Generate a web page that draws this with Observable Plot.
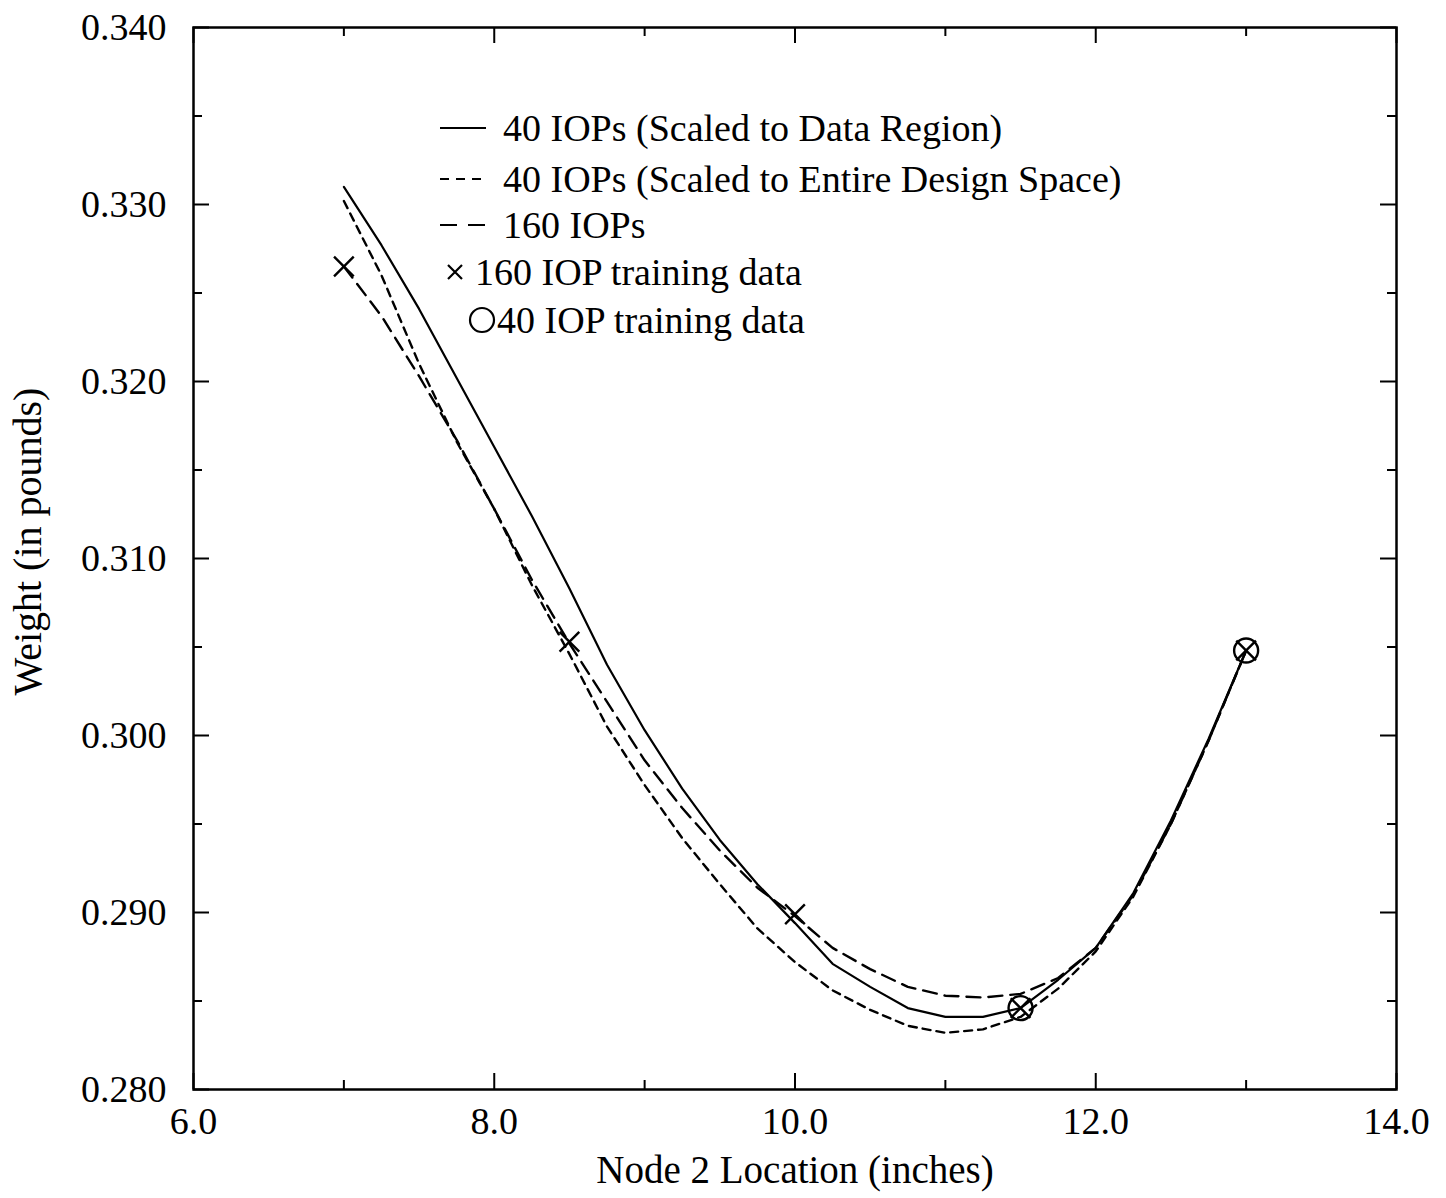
<!DOCTYPE html>
<html><head><meta charset="utf-8">
<script src="https://cdn.jsdelivr.net/npm/d3@7"></script>
<script src="https://cdn.jsdelivr.net/npm/@observablehq/plot@0.6"></script>
<style>
body{margin:0;background:#fff;}
#wrap{position:relative;width:1446px;height:1198px;background:#fff;}
#legend{position:absolute;left:0;top:0;pointer-events:none;}
</style></head><body><div id="wrap"></div>
<script>
// ---- data ----
const nodeX = [7.0,7.25,7.5,7.75,8.0,8.25,8.5,8.75,9.0,9.25,9.5,9.75,10.0,10.25,10.5,10.75,11.0,11.25,11.5,11.75,12.0,12.25,12.5,12.75,13.0];
const iop40Data = [0.3310,0.3277,0.3241,0.3202,0.3163,0.3124,0.3083,0.3040,0.3003,0.2970,0.2941,0.2916,0.2894,0.2871,0.2858,0.2846,0.2841,0.2841,0.2846,0.2862,0.2880,0.2911,0.2952,0.2998,0.3048];
const iop40Entire = [0.3302,0.3260,0.3210,0.3166,0.3128,0.3085,0.3046,0.3005,0.2972,0.2942,0.2916,0.2891,0.2872,0.2856,0.2845,0.2836,0.2832,0.2834,0.2841,0.2857,0.2878,0.2909,0.2950,0.2997,0.3048];
const iop160 = [0.3265,0.3237,0.3203,0.3167,0.3128,0.3088,0.3052,0.3019,0.2986,0.2959,0.2935,0.2914,0.2898,0.2880,0.2868,0.2858,0.2853,0.2852,0.2854,0.2863,0.2880,0.2910,0.2950,0.2997,0.3048];
const train160X = [7.0,8.5,10.0,11.5,13.0];
const train160Y = [0.3265,0.3053,0.2899,0.2846,0.3048];
const train40X = [11.5,13.0];
const train40Y = [0.2846,0.3048];
const xMajor = [6,8,10,12,14];
const xMinor = [7,9,11,13];
const yMajor = [0.28,0.29,0.30,0.31,0.32,0.33,0.34];
const yMinor = [0.285,0.295,0.305,0.315,0.325,0.335];
const legendLabels = ["40 IOPs (Scaled to Data Region)","40 IOPs (Scaled to Entire Design Space)","160 IOPs","160 IOP training data","40 IOP training data"];
const xTitle = "Node 2 Location (inches)";
const yTitle = "Weight (in pounds)";

// ---- layout ----
const W = 1446, H = 1198, mL = 193, mR = 50, mT = 27, mB = 109;
const fw = W - mL - mR, fh = H - mT - mB;
const FONT = "'Liberation Serif', 'Times New Roman', serif";
const shortDash = "8,6", longDash = "14,8";

const series = (ys) => nodeX.map((x, i) => ({x, y: ys[i]}));
const pts = (xs, ys) => xs.map((x, i) => ({x, y: ys[i]}));

const plot = Plot.plot({
  width: W, height: H,
  marginLeft: mL, marginRight: mR, marginTop: mT, marginBottom: mB,
  style: {fontFamily: FONT, fontSize: "38px", background: "#fff", color: "#000"},
  x: {domain: [6, 14]},
  y: {domain: [0.28, 0.34]},
  marks: [
    Plot.axisX(xMajor, {tickSize: 0, tickPadding: 18, tickFormat: d3.format(".1f"), fontSize: 38, label: null}),
    Plot.axisY(yMajor, {tickSize: 0, tickPadding: 27, tickFormat: d3.format(".3f"), fontSize: 38, label: null}),
    // inward ticks on all four sides
    Plot.tickX(xMajor, {x: d => d, insetTop: fh - 16, stroke: "#000", strokeWidth: 2}),
    Plot.tickX(xMajor, {x: d => d, insetBottom: fh - 16, stroke: "#000", strokeWidth: 2}),
    Plot.tickX(xMinor, {x: d => d, insetTop: fh - 9, stroke: "#000", strokeWidth: 2}),
    Plot.tickX(xMinor, {x: d => d, insetBottom: fh - 9, stroke: "#000", strokeWidth: 2}),
    Plot.tickY(yMajor, {y: d => d, insetRight: fw - 16, stroke: "#000", strokeWidth: 2}),
    Plot.tickY(yMajor, {y: d => d, insetLeft: fw - 16, stroke: "#000", strokeWidth: 2}),
    Plot.tickY(yMinor, {y: d => d, insetRight: fw - 9, stroke: "#000", strokeWidth: 2}),
    Plot.tickY(yMinor, {y: d => d, insetLeft: fw - 9, stroke: "#000", strokeWidth: 2}),
    Plot.frame({stroke: "#000", strokeWidth: 2.5}),
    Plot.line(series(iop40Data), {x: "x", y: "y", stroke: "#000", strokeWidth: 2.2}),
    Plot.line(series(iop40Entire), {x: "x", y: "y", stroke: "#000", strokeWidth: 2.4, strokeDasharray: shortDash}),
    Plot.line(series(iop160), {x: "x", y: "y", stroke: "#000", strokeWidth: 2.4, strokeDasharray: longDash}),
    Plot.dot(pts(train160X, train160Y), {x: "x", y: "y", symbol: "times", r: 9, stroke: "#000", strokeWidth: 2.4}),
    Plot.dot(pts(train40X, train40Y), {x: "x", y: "y", symbol: "circle", r: 12, fill: "none", stroke: "#000", strokeWidth: 2.4}),
    Plot.text([xTitle], {frameAnchor: "bottom", lineAnchor: "middle", textAnchor: "middle", dy: 81, fontSize: 39, fill: "#000"}),
    Plot.text([yTitle], {frameAnchor: "left", lineAnchor: "middle", textAnchor: "middle", rotate: -90, dx: -165, dy: -17, fontSize: 40, fill: "#000"})
  ]
});
document.getElementById("wrap").appendChild(plot);

// ---- legend overlay ----
const NS = "http://www.w3.org/2000/svg";
const lg = document.createElementNS(NS, "svg");
lg.setAttribute("id", "legend");
lg.setAttribute("width", W); lg.setAttribute("height", H);
lg.style.fontFamily = FONT;
const rowY = [128, 179, 225, 272, 320];
function el(tag, attrs, parent) {
  const e = document.createElementNS(NS, tag);
  for (const k in attrs) e.setAttribute(k, attrs[k]);
  parent.appendChild(e); return e;
}
legendLabels.forEach((label, i) => {
  const y = rowY[i];
  let tx = 503;
  if (i < 3) {
    const a = {x1: 440, x2: 486, y1: y, y2: y, stroke: "#000", "stroke-width": 2.2};
    if (i === 1) a["stroke-dasharray"] = "9,7";
    if (i === 2) a["stroke-dasharray"] = "17,11";
    el("line", a, lg);
  } else if (i === 3) {
    const s = 7;
    el("path", {d: `M${455 - s},${y - s}L${455 + s},${y + s}M${455 - s},${y + s}L${455 + s},${y - s}`, stroke: "#000", "stroke-width": 2.2, fill: "none"}, lg);
    tx = 475;
  } else {
    el("circle", {cx: 482, cy: y, r: 12, fill: "none", stroke: "#000", "stroke-width": 2.2}, lg);
    tx = 497;
  }
  const t = el("text", {x: tx, y: y, "font-size": 38, "dominant-baseline": "central", fill: "#000"}, lg);
  t.textContent = label;
});
document.getElementById("wrap").appendChild(lg);
</script></body></html>
